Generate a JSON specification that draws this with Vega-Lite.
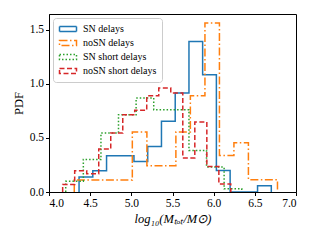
{
  "$schema": "https://vega.github.io/schema/vega-lite/v6.json",
  "width": 247,
  "height": 178,
  "autosize": {"type": "none"},
  "padding": {"left": 49, "top": 14, "right": 24, "bottom": 48},
  "background": "white",
  "config": {
    "font": "Liberation Serif",
    "view": {"stroke": "#000", "strokeWidth": 1},
    "axis": {
      "grid": false,
      "domainColor": "#000",
      "tickColor": "#000",
      "labelColor": "#000",
      "titleColor": "#000",
      "labelFont": "Liberation Serif",
      "titleFont": "Liberation Serif",
      "labelFontSize": 11.5,
      "titleFontSize": 12.5,
      "titleFontWeight": "normal",
      "tickSize": 3.5,
      "labelPadding": 2
    },
    "legend": {
      "labelFont": "Liberation Serif",
      "labelFontSize": 10,
      "labelColor": "#000"
    }
  },
  "data": {
    "values": [
      {"s": "SN delays", "i": 0, "x": 4.365, "y": 0},
      {"s": "SN delays", "i": 1, "x": 4.365, "y": 0.139},
      {"s": "SN delays", "i": 2, "x": 4.532, "y": 0.197},
      {"s": "SN delays", "i": 3, "x": 4.699, "y": 0.336},
      {"s": "SN delays", "i": 4, "x": 4.865, "y": 0.336},
      {"s": "SN delays", "i": 5, "x": 5.032, "y": 0.283},
      {"s": "SN delays", "i": 6, "x": 5.199, "y": 0.422},
      {"s": "SN delays", "i": 7, "x": 5.366, "y": 0.654},
      {"s": "SN delays", "i": 8, "x": 5.533, "y": 0.917},
      {"s": "SN delays", "i": 9, "x": 5.700, "y": 1.394},
      {"s": "SN delays", "i": 10, "x": 5.866, "y": 1.086},
      {"s": "SN delays", "i": 11, "x": 6.033, "y": 0.2},
      {"s": "SN delays", "i": 12, "x": 6.200, "y": 0},
      {"s": "SN delays", "i": 13, "x": 6.367, "y": 0},
      {"s": "SN delays", "i": 14, "x": 6.533, "y": 0.058},
      {"s": "SN delays", "i": 15, "x": 6.700, "y": 0},

      {"s": "noSN delays", "i": 0, "x": 4.307, "y": 0},
      {"s": "noSN delays", "i": 1, "x": 4.307, "y": 0.11},
      {"s": "noSN delays", "i": 2, "x": 4.483, "y": 0.11},
      {"s": "noSN delays", "i": 3, "x": 4.660, "y": 0.11},
      {"s": "noSN delays", "i": 4, "x": 4.836, "y": 0.11},
      {"s": "noSN delays", "i": 5, "x": 5.012, "y": 0.556},
      {"s": "noSN delays", "i": 6, "x": 5.189, "y": 0.244},
      {"s": "noSN delays", "i": 7, "x": 5.365, "y": 0.244},
      {"s": "noSN delays", "i": 8, "x": 5.541, "y": 0.556},
      {"s": "noSN delays", "i": 9, "x": 5.717, "y": 0.89},
      {"s": "noSN delays", "i": 10, "x": 5.894, "y": 1.565},
      {"s": "noSN delays", "i": 11, "x": 6.070, "y": 0.339},
      {"s": "noSN delays", "i": 12, "x": 6.246, "y": 0.456},
      {"s": "noSN delays", "i": 13, "x": 6.422, "y": 0.114},
      {"s": "noSN delays", "i": 14, "x": 6.599, "y": 0.114},
      {"s": "noSN delays", "i": 15, "x": 6.775, "y": 0},

      {"s": "SN short delays", "i": 0, "x": 4.203, "y": 0},
      {"s": "SN short delays", "i": 1, "x": 4.203, "y": 0.1},
      {"s": "SN short delays", "i": 2, "x": 4.417, "y": 0.302},
      {"s": "SN short delays", "i": 3, "x": 4.631, "y": 0.546},
      {"s": "SN short delays", "i": 4, "x": 4.844, "y": 0.716},
      {"s": "SN short delays", "i": 5, "x": 5.058, "y": 0.87},
      {"s": "SN short delays", "i": 6, "x": 5.272, "y": 0.762},
      {"s": "SN short delays", "i": 7, "x": 5.486, "y": 0.762},
      {"s": "SN short delays", "i": 8, "x": 5.700, "y": 0.385},
      {"s": "SN short delays", "i": 9, "x": 5.913, "y": 0.231},
      {"s": "SN short delays", "i": 10, "x": 6.127, "y": 0.03},
      {"s": "SN short delays", "i": 11, "x": 6.341, "y": 0},

      {"s": "noSN short delays", "i": 0, "x": 4.166, "y": 0},
      {"s": "noSN short delays", "i": 1, "x": 4.166, "y": 0.07},
      {"s": "noSN short delays", "i": 2, "x": 4.312, "y": 0.197},
      {"s": "noSN short delays", "i": 3, "x": 4.458, "y": 0.17},
      {"s": "noSN short delays", "i": 4, "x": 4.604, "y": 0.398},
      {"s": "noSN short delays", "i": 5, "x": 4.750, "y": 0.546},
      {"s": "noSN short delays", "i": 6, "x": 4.896, "y": 0.716},
      {"s": "noSN short delays", "i": 7, "x": 5.041, "y": 0.757},
      {"s": "noSN short delays", "i": 8, "x": 5.187, "y": 0.89},
      {"s": "noSN short delays", "i": 9, "x": 5.333, "y": 0.963},
      {"s": "noSN short delays", "i": 10, "x": 5.479, "y": 0.917},
      {"s": "noSN short delays", "i": 11, "x": 5.625, "y": 0.315},
      {"s": "noSN short delays", "i": 12, "x": 5.771, "y": 0.648},
      {"s": "noSN short delays", "i": 13, "x": 5.917, "y": 0.237},
      {"s": "noSN short delays", "i": 14, "x": 6.063, "y": 0.074},
      {"s": "noSN short delays", "i": 15, "x": 6.208, "y": 0}
    ]
  },
  "mark": {"type": "line", "interpolate": "step-after", "strokeWidth": 1.5, "clip": true},
  "encoding": {
    "x": {
      "field": "x",
      "type": "quantitative",
      "scale": {"domain": [4, 7], "nice": false, "zero": false},
      "axis": {
        "values": [4, 4.5, 5, 5.5, 6, 6.5, 7],
        "format": ".1f",
        "title": "log₁₀(Mₜₒₜ/M⊙)",
        "titleFontStyle": "italic",
        "titlePadding": 3
      }
    },
    "y": {
      "field": "y",
      "type": "quantitative",
      "scale": {"domain": [0, 1.648], "nice": false},
      "axis": {
        "values": [0, 0.5, 1, 1.5],
        "format": ".1f",
        "title": "PDF",
        "titlePadding": 4
      }
    },
    "color": {
      "field": "s",
      "type": "nominal",
      "scale": {
        "domain": ["SN delays", "noSN delays", "SN short delays", "noSN short delays"],
        "range": ["#1f77b4", "#ff7f0e", "#2ca02c", "#d62728"]
      },
      "legend": {
        "title": null,
        "orient": "top-left",
        "offset": 4,
        "padding": 5,
        "fillColor": "white",
        "strokeColor": "#cccccc",
        "cornerRadius": 3,
        "symbolType": "M-0.9,-0.5H2.5V0.5H-0.9Z",
        "symbolSize": 100,
        "symbolStrokeWidth": 1.5,
        "symbolFillColor": "transparent",
        "labelFont": "Liberation Serif",
        "labelFontSize": 10,
        "labelOffset": 13,
        "rowPadding": 2,
        "encode": {"labels": {"update": {"font": {"value": "Liberation Serif"}, "fontSize": {"value": 10}}}}
      }
    },
    "strokeDash": {
      "field": "s",
      "type": "nominal",
      "scale": {
        "domain": ["SN delays", "noSN delays", "SN short delays", "noSN short delays"],
        "range": [[1, 0], [8, 2.5, 1.5, 2.5], [1.5, 2], [5, 2.5]]
      },
      "legend": {
        "title": null,
        "orient": "top-left",
        "offset": 4,
        "padding": 5,
        "fillColor": "white",
        "strokeColor": "#cccccc",
        "cornerRadius": 3,
        "symbolType": "M-0.9,-0.5H2.5V0.5H-0.9Z",
        "symbolSize": 100,
        "symbolStrokeWidth": 1.5,
        "symbolFillColor": "transparent",
        "labelFont": "Liberation Serif",
        "labelFontSize": 10,
        "labelOffset": 13,
        "rowPadding": 2,
        "encode": {"labels": {"update": {"font": {"value": "Liberation Serif"}, "fontSize": {"value": 10}}}}
      }
    },
    "order": {"field": "i", "type": "quantitative"}
  }
}
